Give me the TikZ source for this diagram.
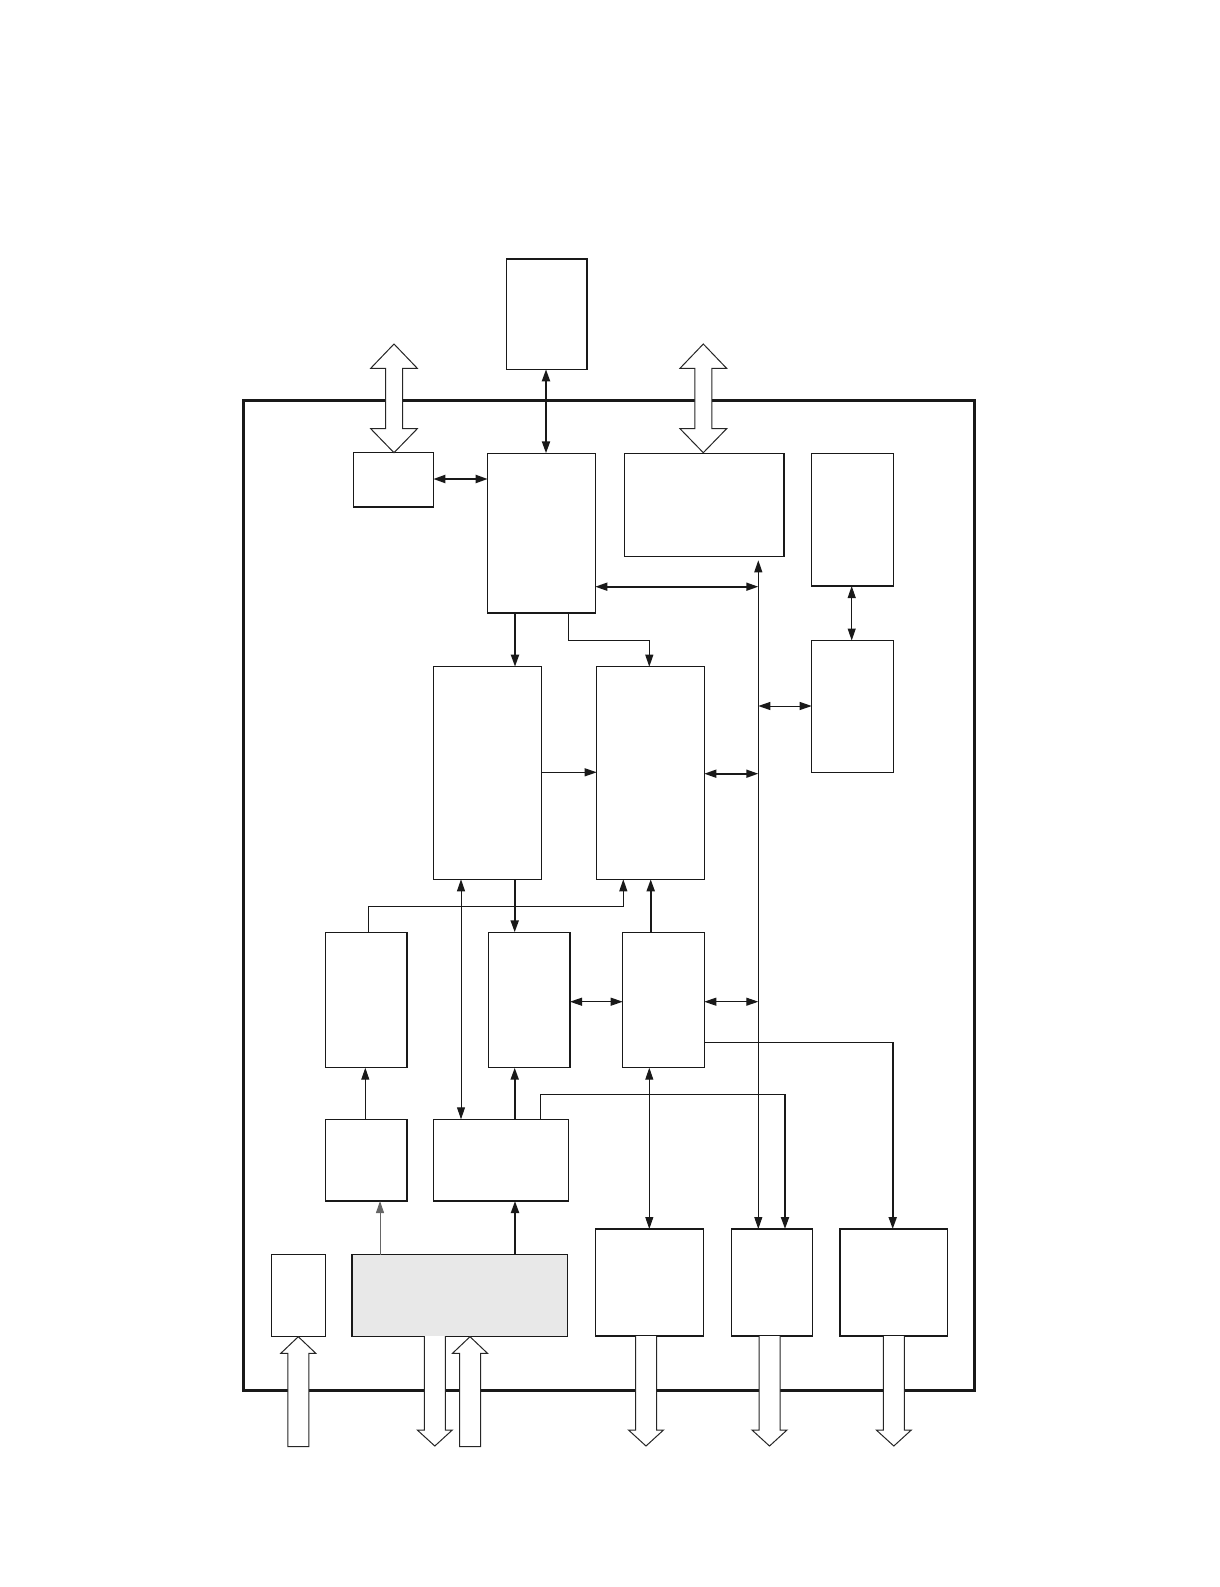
\documentclass[tikz,border=0pt]{standalone}
\usetikzlibrary{arrows.meta}
\begin{document}
\begin{tikzpicture}[x=1pt,y=-1pt,
  box/.style={draw=black!90,line width=1.5pt,fill=white,inner sep=0pt,outer sep=0pt},
  thin/.style={draw=black!90,line width=1pt},
  thick/.style={draw=black!90,line width=2pt},
  tip/.style={-{Triangle[length=12pt,width=8pt]}},
  tips/.style={{Triangle[length=12pt,width=8pt]}-{Triangle[length=12pt,width=8pt]}},
  blockarrow/.style={draw=black!85,line width=1pt,fill=white,line join=miter}]
\useasboundingbox (0,0) rectangle (1219,1587);
% frame
\draw[line width=3pt,black!90] (243.3,400) rectangle (974.3,1390);
% boxes: \bx{name}{x1}{y1}{x2}{y2}
\newcommand\bx[6][]{\node[box,#1,anchor=north west,minimum width={#5-#3},minimum height={#6-#4}] (#2) at (#3,#4) {};}
\bx{Z}{506.7}{259}{587}{369.3}
\bx{A}{353.3}{452.7}{433.3}{507}
\bx{B}{487.7}{453.3}{595.3}{613}
\bx{C}{624.3}{453.7}{784}{556.3}
\bx{D}{811.7}{453.7}{893.3}{586}
\bx[line width=1pt]{E}{811.7}{640.5}{893.3}{772.5}
\bx[line width=1.2pt]{F}{433.3}{666.7}{541.3}{879.3}
\bx{G}{596.7}{666.7}{704.3}{879.3}
\bx{H}{325.3}{932.3}{407}{1067.7}
\bx{I}{488.3}{932.3}{570}{1067.7}
\bx{K}{622.7}{932.3}{704.3}{1067.7}
\bx{L}{325.3}{1119.3}{407}{1201}
\bx{J}{433.7}{1119.3}{568.3}{1201}
\bx{M}{595.7}{1229}{703.3}{1336}
\bx{N}{731.7}{1229}{812.3}{1336}
\bx{P}{840}{1229}{947.3}{1336}
\bx{Q}{271.3}{1254.7}{325.3}{1336.3}
\bx[fill={rgb,255:red,232;green,232;blue,232}]{R}{352}{1254.7}{567.3}{1336.3}
% connectors
\draw[thick,tips] (546,0 |- Z.south) -- (546,0 |- B.north);
\draw[thick,tips] (A.east |- 0,479) -- (B.west |- 0,479);
\draw[thick,tip] (515,0 |- B.south) -- (515,0 |- F.north);
\draw[thin,tip] (568.7,0 |- B.south) -- (568.7,640.3) -| (649.3,0 |- G.north);
\draw[thin,tip] (F.east |- 0,772.3) -- (G.west |- 0,772.3);
\coordinate (bustop) at (758.3,561);
\draw[thin,tips] (758.3,0 |- C.south) ++(0,4) -- (758.3,0 |- N.north);
\draw[line width=1.6pt,black!90,tips] (B.east |- 0,586.7) -- (758.3,586.7);
\draw[thin,tips] (851.7,0 |- D.south) -- (851.7,0 |- E.north);
\draw[thin,tips] (758.3,706) -- (E.west |- 0,706);
\draw[line width=1.6pt,black!90,tips] (G.east |- 0,773.7) -- (758.3,773.7);
\draw[thin] (368.7,0 |- H.north) -- (368.7,906.3);
\draw[thin,tip] (368.7,906.3) -| (623.3,0 |- G.south);
\draw[thin,tips] (461,0 |- F.south) -- (461,0 |- J.north);
\draw[thick,tip] (514.7,0 |- F.south) -- (514.7,0 |- I.north);
\draw[thin,tips] (I.east |- 0,1001.7) -- (K.west |- 0,1001.7);
\draw[thick,tip] (650.7,0 |- K.north) -- (650.7,0 |- G.south);
\draw[thin,tips] (K.east |- 0,1001.7) -- (758.3,1001.7);
\draw[thin] (K.east |- 0,1042.3) -- (892.7,1042.3);
\draw[thick,tip] (892.7,1042.3) -- (892.7,0 |- P.north);
\draw[thin,tip] (365.3,0 |- L.north) -- (365.3,0 |- H.south);
\draw[thick,tip] (514.7,0 |- J.north) -- (514.7,0 |- I.south);
\draw[thin] (540.7,0 |- J.north) -- (540.7,1094.3) -- (785,1094.3);
\draw[thick,tip] (785,1094.3) -- (785,0 |- N.north);
\draw[thin,tips] (649.3,0 |- K.south) -- (649.3,0 |- M.north);
\draw[line width=1pt,black!60,tip] (380,0 |- R.north) -- (380,0 |- L.south);
\draw[thick,tip] (515,0 |- R.north) -- (515,0 |- J.south);
% block arrows
\newcommand\dbl[1]{\draw[blockarrow] (#1,344) -- (#1+23.3,368.3) -- (#1+8.5,368.3) -- (#1+8.5,428.7) -- (#1+23.3,428.7) -- (#1,452.7) -- (#1-23.3,428.7) -- (#1-8.5,428.7) -- (#1-8.5,368.3) -- (#1-23.3,368.3) -- cycle;}
\dbl{394}
\dbl{703.3}
\newcommand\dn[1]{\draw[blockarrow] (#1-10.5,1336) -- (#1-10.5,1430) -- (#1-17.5,1430) -- (#1,1446) -- (#1+17.5,1430) -- (#1+10.5,1430) -- (#1+10.5,1336);}
\newcommand\up[1]{\draw[blockarrow] (#1-10.5,1446.7) -- (#1-10.5,1353.3) -- (#1-17.5,1353.3) -- (#1,1336.7) -- (#1+17.5,1353.3) -- (#1+10.5,1353.3) -- (#1+10.5,1446.7) -- cycle;}
\dn{434.8}
\dn{646}
\dn{769.5}
\dn{893.8}
\up{298.3}
\up{470}
\end{tikzpicture}
\end{document}
